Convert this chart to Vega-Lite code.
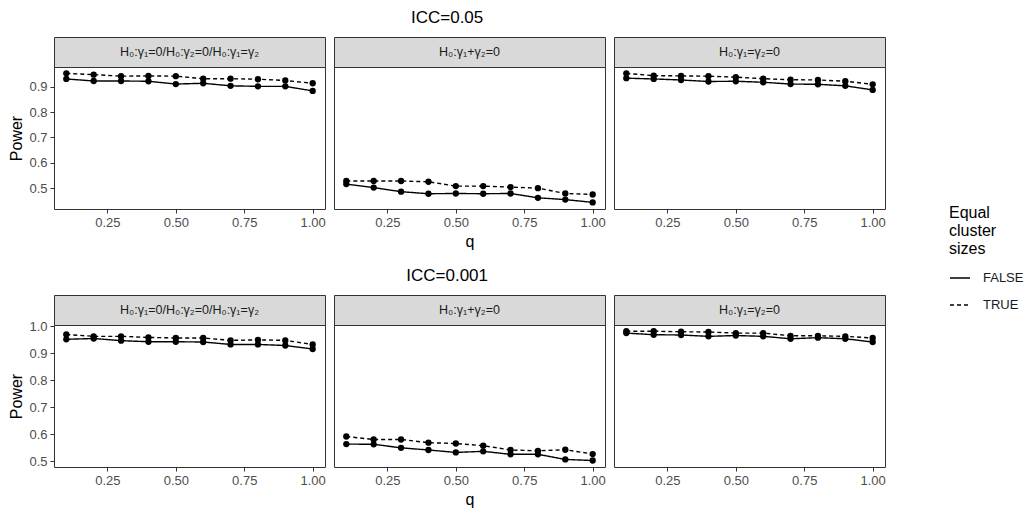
{
  "$schema": "https://vega.github.io/schema/vega-lite/v6.json",
  "padding": {"left": 8, "top": 8, "right": 5, "bottom": 5},
  "background": "white",
  "config": {
    "font": "Liberation Sans",
    "axis": {"domain": false, "grid": false, "tickColor": "#333333", "tickSize": 4, "labelColor": "#4d4d4d", "labelFontSize": 13, "labelFont": "Liberation Sans", "titleFont": "Liberation Sans", "titleFontSize": 16, "titleFontWeight": "normal", "titleColor": "black", "labelPadding": 3},
    "title": {"font": "Liberation Sans", "fontSize": 17, "fontWeight": "normal", "color": "black", "anchor": "middle", "offset": 10},
    "legend": {"titleFont": "Liberation Sans", "labelFont": "Liberation Sans"}
  },
  "datasets": {
    "d": [
      {"icc":"0.05","hyp":"A","equal":"TRUE","q":0.1,"power":0.952},{"icc":"0.05","hyp":"A","equal":"TRUE","q":0.2,"power":0.947},{"icc":"0.05","hyp":"A","equal":"TRUE","q":0.3,"power":0.941},{"icc":"0.05","hyp":"A","equal":"TRUE","q":0.4,"power":0.942},{"icc":"0.05","hyp":"A","equal":"TRUE","q":0.5,"power":0.941},{"icc":"0.05","hyp":"A","equal":"TRUE","q":0.6,"power":0.931},{"icc":"0.05","hyp":"A","equal":"TRUE","q":0.7,"power":0.931},{"icc":"0.05","hyp":"A","equal":"TRUE","q":0.8,"power":0.929},{"icc":"0.05","hyp":"A","equal":"TRUE","q":0.9,"power":0.924},{"icc":"0.05","hyp":"A","equal":"TRUE","q":1.0,"power":0.913},
      {"icc":"0.05","hyp":"A","equal":"FALSE","q":0.1,"power":0.930},{"icc":"0.05","hyp":"A","equal":"FALSE","q":0.2,"power":0.922},{"icc":"0.05","hyp":"A","equal":"FALSE","q":0.3,"power":0.922},{"icc":"0.05","hyp":"A","equal":"FALSE","q":0.4,"power":0.921},{"icc":"0.05","hyp":"A","equal":"FALSE","q":0.5,"power":0.910},{"icc":"0.05","hyp":"A","equal":"FALSE","q":0.6,"power":0.913},{"icc":"0.05","hyp":"A","equal":"FALSE","q":0.7,"power":0.903},{"icc":"0.05","hyp":"A","equal":"FALSE","q":0.8,"power":0.901},{"icc":"0.05","hyp":"A","equal":"FALSE","q":0.9,"power":0.901},{"icc":"0.05","hyp":"A","equal":"FALSE","q":1.0,"power":0.883},
      {"icc":"0.05","hyp":"B","equal":"TRUE","q":0.1,"power":0.529},{"icc":"0.05","hyp":"B","equal":"TRUE","q":0.2,"power":0.529},{"icc":"0.05","hyp":"B","equal":"TRUE","q":0.3,"power":0.529},{"icc":"0.05","hyp":"B","equal":"TRUE","q":0.4,"power":0.526},{"icc":"0.05","hyp":"B","equal":"TRUE","q":0.5,"power":0.509},{"icc":"0.05","hyp":"B","equal":"TRUE","q":0.6,"power":0.509},{"icc":"0.05","hyp":"B","equal":"TRUE","q":0.7,"power":0.505},{"icc":"0.05","hyp":"B","equal":"TRUE","q":0.8,"power":0.501},{"icc":"0.05","hyp":"B","equal":"TRUE","q":0.9,"power":0.480},{"icc":"0.05","hyp":"B","equal":"TRUE","q":1.0,"power":0.476},
      {"icc":"0.05","hyp":"B","equal":"FALSE","q":0.1,"power":0.517},{"icc":"0.05","hyp":"B","equal":"FALSE","q":0.2,"power":0.503},{"icc":"0.05","hyp":"B","equal":"FALSE","q":0.3,"power":0.487},{"icc":"0.05","hyp":"B","equal":"FALSE","q":0.4,"power":0.479},{"icc":"0.05","hyp":"B","equal":"FALSE","q":0.5,"power":0.480},{"icc":"0.05","hyp":"B","equal":"FALSE","q":0.6,"power":0.479},{"icc":"0.05","hyp":"B","equal":"FALSE","q":0.7,"power":0.480},{"icc":"0.05","hyp":"B","equal":"FALSE","q":0.8,"power":0.463},{"icc":"0.05","hyp":"B","equal":"FALSE","q":0.9,"power":0.456},{"icc":"0.05","hyp":"B","equal":"FALSE","q":1.0,"power":0.445},
      {"icc":"0.05","hyp":"C","equal":"TRUE","q":0.1,"power":0.952},{"icc":"0.05","hyp":"C","equal":"TRUE","q":0.2,"power":0.943},{"icc":"0.05","hyp":"C","equal":"TRUE","q":0.3,"power":0.942},{"icc":"0.05","hyp":"C","equal":"TRUE","q":0.4,"power":0.941},{"icc":"0.05","hyp":"C","equal":"TRUE","q":0.5,"power":0.937},{"icc":"0.05","hyp":"C","equal":"TRUE","q":0.6,"power":0.931},{"icc":"0.05","hyp":"C","equal":"TRUE","q":0.7,"power":0.927},{"icc":"0.05","hyp":"C","equal":"TRUE","q":0.8,"power":0.926},{"icc":"0.05","hyp":"C","equal":"TRUE","q":0.9,"power":0.921},{"icc":"0.05","hyp":"C","equal":"TRUE","q":1.0,"power":0.909},
      {"icc":"0.05","hyp":"C","equal":"FALSE","q":0.1,"power":0.933},{"icc":"0.05","hyp":"C","equal":"FALSE","q":0.2,"power":0.930},{"icc":"0.05","hyp":"C","equal":"FALSE","q":0.3,"power":0.926},{"icc":"0.05","hyp":"C","equal":"FALSE","q":0.4,"power":0.920},{"icc":"0.05","hyp":"C","equal":"FALSE","q":0.5,"power":0.921},{"icc":"0.05","hyp":"C","equal":"FALSE","q":0.6,"power":0.917},{"icc":"0.05","hyp":"C","equal":"FALSE","q":0.7,"power":0.910},{"icc":"0.05","hyp":"C","equal":"FALSE","q":0.8,"power":0.909},{"icc":"0.05","hyp":"C","equal":"FALSE","q":0.9,"power":0.903},{"icc":"0.05","hyp":"C","equal":"FALSE","q":1.0,"power":0.887},
      {"icc":"0.001","hyp":"A","equal":"TRUE","q":0.1,"power":0.969},{"icc":"0.001","hyp":"A","equal":"TRUE","q":0.2,"power":0.962},{"icc":"0.001","hyp":"A","equal":"TRUE","q":0.3,"power":0.962},{"icc":"0.001","hyp":"A","equal":"TRUE","q":0.4,"power":0.958},{"icc":"0.001","hyp":"A","equal":"TRUE","q":0.5,"power":0.956},{"icc":"0.001","hyp":"A","equal":"TRUE","q":0.6,"power":0.956},{"icc":"0.001","hyp":"A","equal":"TRUE","q":0.7,"power":0.947},{"icc":"0.001","hyp":"A","equal":"TRUE","q":0.8,"power":0.949},{"icc":"0.001","hyp":"A","equal":"TRUE","q":0.9,"power":0.947},{"icc":"0.001","hyp":"A","equal":"TRUE","q":1.0,"power":0.932},
      {"icc":"0.001","hyp":"A","equal":"FALSE","q":0.1,"power":0.951},{"icc":"0.001","hyp":"A","equal":"FALSE","q":0.2,"power":0.954},{"icc":"0.001","hyp":"A","equal":"FALSE","q":0.3,"power":0.946},{"icc":"0.001","hyp":"A","equal":"FALSE","q":0.4,"power":0.942},{"icc":"0.001","hyp":"A","equal":"FALSE","q":0.5,"power":0.942},{"icc":"0.001","hyp":"A","equal":"FALSE","q":0.6,"power":0.941},{"icc":"0.001","hyp":"A","equal":"FALSE","q":0.7,"power":0.932},{"icc":"0.001","hyp":"A","equal":"FALSE","q":0.8,"power":0.932},{"icc":"0.001","hyp":"A","equal":"FALSE","q":0.9,"power":0.928},{"icc":"0.001","hyp":"A","equal":"FALSE","q":1.0,"power":0.915},
      {"icc":"0.001","hyp":"B","equal":"TRUE","q":0.1,"power":0.591},{"icc":"0.001","hyp":"B","equal":"TRUE","q":0.2,"power":0.580},{"icc":"0.001","hyp":"B","equal":"TRUE","q":0.3,"power":0.580},{"icc":"0.001","hyp":"B","equal":"TRUE","q":0.4,"power":0.568},{"icc":"0.001","hyp":"B","equal":"TRUE","q":0.5,"power":0.565},{"icc":"0.001","hyp":"B","equal":"TRUE","q":0.6,"power":0.557},{"icc":"0.001","hyp":"B","equal":"TRUE","q":0.7,"power":0.541},{"icc":"0.001","hyp":"B","equal":"TRUE","q":0.8,"power":0.538},{"icc":"0.001","hyp":"B","equal":"TRUE","q":0.9,"power":0.542},{"icc":"0.001","hyp":"B","equal":"TRUE","q":1.0,"power":0.526},
      {"icc":"0.001","hyp":"B","equal":"FALSE","q":0.1,"power":0.563},{"icc":"0.001","hyp":"B","equal":"FALSE","q":0.2,"power":0.562},{"icc":"0.001","hyp":"B","equal":"FALSE","q":0.3,"power":0.549},{"icc":"0.001","hyp":"B","equal":"FALSE","q":0.4,"power":0.541},{"icc":"0.001","hyp":"B","equal":"FALSE","q":0.5,"power":0.532},{"icc":"0.001","hyp":"B","equal":"FALSE","q":0.6,"power":0.536},{"icc":"0.001","hyp":"B","equal":"FALSE","q":0.7,"power":0.525},{"icc":"0.001","hyp":"B","equal":"FALSE","q":0.8,"power":0.525},{"icc":"0.001","hyp":"B","equal":"FALSE","q":0.9,"power":0.506},{"icc":"0.001","hyp":"B","equal":"FALSE","q":1.0,"power":0.502},
      {"icc":"0.001","hyp":"C","equal":"TRUE","q":0.1,"power":0.981},{"icc":"0.001","hyp":"C","equal":"TRUE","q":0.2,"power":0.981},{"icc":"0.001","hyp":"C","equal":"TRUE","q":0.3,"power":0.979},{"icc":"0.001","hyp":"C","equal":"TRUE","q":0.4,"power":0.978},{"icc":"0.001","hyp":"C","equal":"TRUE","q":0.5,"power":0.974},{"icc":"0.001","hyp":"C","equal":"TRUE","q":0.6,"power":0.974},{"icc":"0.001","hyp":"C","equal":"TRUE","q":0.7,"power":0.964},{"icc":"0.001","hyp":"C","equal":"TRUE","q":0.8,"power":0.964},{"icc":"0.001","hyp":"C","equal":"TRUE","q":0.9,"power":0.962},{"icc":"0.001","hyp":"C","equal":"TRUE","q":1.0,"power":0.956},
      {"icc":"0.001","hyp":"C","equal":"FALSE","q":0.1,"power":0.974},{"icc":"0.001","hyp":"C","equal":"FALSE","q":0.2,"power":0.968},{"icc":"0.001","hyp":"C","equal":"FALSE","q":0.3,"power":0.967},{"icc":"0.001","hyp":"C","equal":"FALSE","q":0.4,"power":0.962},{"icc":"0.001","hyp":"C","equal":"FALSE","q":0.5,"power":0.965},{"icc":"0.001","hyp":"C","equal":"FALSE","q":0.6,"power":0.962},{"icc":"0.001","hyp":"C","equal":"FALSE","q":0.7,"power":0.953},{"icc":"0.001","hyp":"C","equal":"FALSE","q":0.8,"power":0.957},{"icc":"0.001","hyp":"C","equal":"FALSE","q":0.9,"power":0.953},{"icc":"0.001","hyp":"C","equal":"FALSE","q":1.0,"power":0.941}
    ]
  },
  "resolve": {"scale": {"strokeDash": "shared"}, "legend": {"strokeDash": "shared"}},
  "spacing": 16,
  "vconcat": [
    {
      "title": {"text": "ICC=0.05"},
      "columns": 3,
      "spacing": {"column": 9, "row": 0},
      "bounds": "flush",
      "concat": [
        {"width": 271, "height": 30, "data": {"values": [{"label": "H₀:γ₁=0/H₀:γ₂=0/H₀:γ₁=γ₂"}]}, "view": {"fill": "#d9d9d9", "stroke": "#333333"}, "mark": {"type": "text", "fontSize": 12.5, "color": "#1a1a1a"}, "encoding": {"text": {"field": "label"}}},
        {"width": 271, "height": 30, "data": {"values": [{"label": "H₀:γ₁+γ₂=0"}]}, "view": {"fill": "#d9d9d9", "stroke": "#333333"}, "mark": {"type": "text", "fontSize": 12.5, "color": "#1a1a1a"}, "encoding": {"text": {"field": "label"}}},
        {"width": 271, "height": 30, "data": {"values": [{"label": "H₀:γ₁=γ₂=0"}]}, "view": {"fill": "#d9d9d9", "stroke": "#333333"}, "mark": {"type": "text", "fontSize": 12.5, "color": "#1a1a1a"}, "encoding": {"text": {"field": "label"}}},
        {"width": 271, "height": 142, "data": {"name": "d"}, "transform": [{"filter": "datum.icc=='0.05' && datum.hyp=='A'"}], "view": {"stroke": "#333333"},
         "encoding": {
           "x": {"field": "q", "type": "quantitative", "scale": {"domain": [0.055, 1.045], "nice": false, "zero": false}, "axis": {"values": [0.25, 0.5, 0.75, 1], "format": ".2f", "title": null}},
           "y": {"field": "power", "type": "quantitative", "scale": {"domain": [0.419, 0.977], "nice": false, "zero": false}, "axis": {"values": [0.5, 0.6, 0.7, 0.8, 0.9], "format": ".1f", "title": "Power"}}},
         "layer": [
           {"mark": {"type": "line", "color": "black", "strokeWidth": 1.4}, "encoding": {"strokeDash": {"field": "equal", "type": "nominal", "scale": {"domain": ["FALSE", "TRUE"], "range": [[1, 0], [4, 3]]}, "legend": {"title": ["Equal", "cluster", "sizes"], "orient": "none", "legendX": 895, "legendY": 168, "titleFontSize": 16, "titleFontWeight": "normal", "titleColor": "black", "titleLineHeight": 18, "titlePadding": 10, "labelFontSize": 13, "labelColor": "#1a1a1a", "symbolType": "stroke", "symbolSize": 400, "symbolStrokeWidth": 1.4, "symbolStrokeColor": "black", "rowPadding": 9, "labelOffset": 12}}}},
           {"mark": {"type": "point", "filled": true, "color": "black", "size": 40, "opacity": 1}}
         ]},
        {"width": 271, "height": 142, "data": {"name": "d"}, "transform": [{"filter": "datum.icc=='0.05' && datum.hyp=='B'"}], "view": {"stroke": "#333333"},
         "encoding": {
           "x": {"field": "q", "type": "quantitative", "scale": {"domain": [0.055, 1.045], "nice": false, "zero": false}, "axis": {"values": [0.25, 0.5, 0.75, 1], "format": ".2f", "title": "q"}},
           "y": {"field": "power", "type": "quantitative", "scale": {"domain": [0.419, 0.977], "nice": false, "zero": false}, "axis": null}},
         "layer": [
           {"mark": {"type": "line", "color": "black", "strokeWidth": 1.4}, "encoding": {"strokeDash": {"field": "equal", "type": "nominal", "scale": {"domain": ["FALSE", "TRUE"], "range": [[1, 0], [4, 3]]}}}},
           {"mark": {"type": "point", "filled": true, "color": "black", "size": 40, "opacity": 1}}
         ]},
        {"width": 271, "height": 142, "data": {"name": "d"}, "transform": [{"filter": "datum.icc=='0.05' && datum.hyp=='C'"}], "view": {"stroke": "#333333"},
         "encoding": {
           "x": {"field": "q", "type": "quantitative", "scale": {"domain": [0.055, 1.045], "nice": false, "zero": false}, "axis": {"values": [0.25, 0.5, 0.75, 1], "format": ".2f", "title": null}},
           "y": {"field": "power", "type": "quantitative", "scale": {"domain": [0.419, 0.977], "nice": false, "zero": false}, "axis": null}},
         "layer": [
           {"mark": {"type": "line", "color": "black", "strokeWidth": 1.4}, "encoding": {"strokeDash": {"field": "equal", "type": "nominal", "scale": {"domain": ["FALSE", "TRUE"], "range": [[1, 0], [4, 3]]}}}},
           {"mark": {"type": "point", "filled": true, "color": "black", "size": 40, "opacity": 1}}
         ]}
      ]
    },
    {
      "title": {"text": "ICC=0.001"},
      "columns": 3,
      "spacing": {"column": 9, "row": 0},
      "bounds": "flush",
      "concat": [
        {"width": 271, "height": 30, "data": {"values": [{"label": "H₀:γ₁=0/H₀:γ₂=0/H₀:γ₁=γ₂"}]}, "view": {"fill": "#d9d9d9", "stroke": "#333333"}, "mark": {"type": "text", "fontSize": 12.5, "color": "#1a1a1a"}, "encoding": {"text": {"field": "label"}}},
        {"width": 271, "height": 30, "data": {"values": [{"label": "H₀:γ₁+γ₂=0"}]}, "view": {"fill": "#d9d9d9", "stroke": "#333333"}, "mark": {"type": "text", "fontSize": 12.5, "color": "#1a1a1a"}, "encoding": {"text": {"field": "label"}}},
        {"width": 271, "height": 30, "data": {"values": [{"label": "H₀:γ₁=γ₂=0"}]}, "view": {"fill": "#d9d9d9", "stroke": "#333333"}, "mark": {"type": "text", "fontSize": 12.5, "color": "#1a1a1a"}, "encoding": {"text": {"field": "label"}}},
        {"width": 271, "height": 142, "data": {"name": "d"}, "transform": [{"filter": "datum.icc=='0.001' && datum.hyp=='A'"}], "view": {"stroke": "#333333"},
         "encoding": {
           "x": {"field": "q", "type": "quantitative", "scale": {"domain": [0.055, 1.045], "nice": false, "zero": false}, "axis": {"values": [0.25, 0.5, 0.75, 1], "format": ".2f", "title": null}},
           "y": {"field": "power", "type": "quantitative", "scale": {"domain": [0.478, 1.004], "nice": false, "zero": false}, "axis": {"values": [0.5, 0.6, 0.7, 0.8, 0.9, 1.0], "format": ".1f", "title": "Power"}}},
         "layer": [
           {"mark": {"type": "line", "color": "black", "strokeWidth": 1.4}, "encoding": {"strokeDash": {"field": "equal", "type": "nominal", "scale": {"domain": ["FALSE", "TRUE"], "range": [[1, 0], [4, 3]]}}}},
           {"mark": {"type": "point", "filled": true, "color": "black", "size": 40, "opacity": 1}}
         ]},
        {"width": 271, "height": 142, "data": {"name": "d"}, "transform": [{"filter": "datum.icc=='0.001' && datum.hyp=='B'"}], "view": {"stroke": "#333333"},
         "encoding": {
           "x": {"field": "q", "type": "quantitative", "scale": {"domain": [0.055, 1.045], "nice": false, "zero": false}, "axis": {"values": [0.25, 0.5, 0.75, 1], "format": ".2f", "title": "q"}},
           "y": {"field": "power", "type": "quantitative", "scale": {"domain": [0.478, 1.004], "nice": false, "zero": false}, "axis": null}},
         "layer": [
           {"mark": {"type": "line", "color": "black", "strokeWidth": 1.4}, "encoding": {"strokeDash": {"field": "equal", "type": "nominal", "scale": {"domain": ["FALSE", "TRUE"], "range": [[1, 0], [4, 3]]}}}},
           {"mark": {"type": "point", "filled": true, "color": "black", "size": 40, "opacity": 1}}
         ]},
        {"width": 271, "height": 142, "data": {"name": "d"}, "transform": [{"filter": "datum.icc=='0.001' && datum.hyp=='C'"}], "view": {"stroke": "#333333"},
         "encoding": {
           "x": {"field": "q", "type": "quantitative", "scale": {"domain": [0.055, 1.045], "nice": false, "zero": false}, "axis": {"values": [0.25, 0.5, 0.75, 1], "format": ".2f", "title": null}},
           "y": {"field": "power", "type": "quantitative", "scale": {"domain": [0.478, 1.004], "nice": false, "zero": false}, "axis": null}},
         "layer": [
           {"mark": {"type": "line", "color": "black", "strokeWidth": 1.4}, "encoding": {"strokeDash": {"field": "equal", "type": "nominal", "scale": {"domain": ["FALSE", "TRUE"], "range": [[1, 0], [4, 3]]}}}},
           {"mark": {"type": "point", "filled": true, "color": "black", "size": 40, "opacity": 1}}
         ]}
      ]
    }
  ]
}
